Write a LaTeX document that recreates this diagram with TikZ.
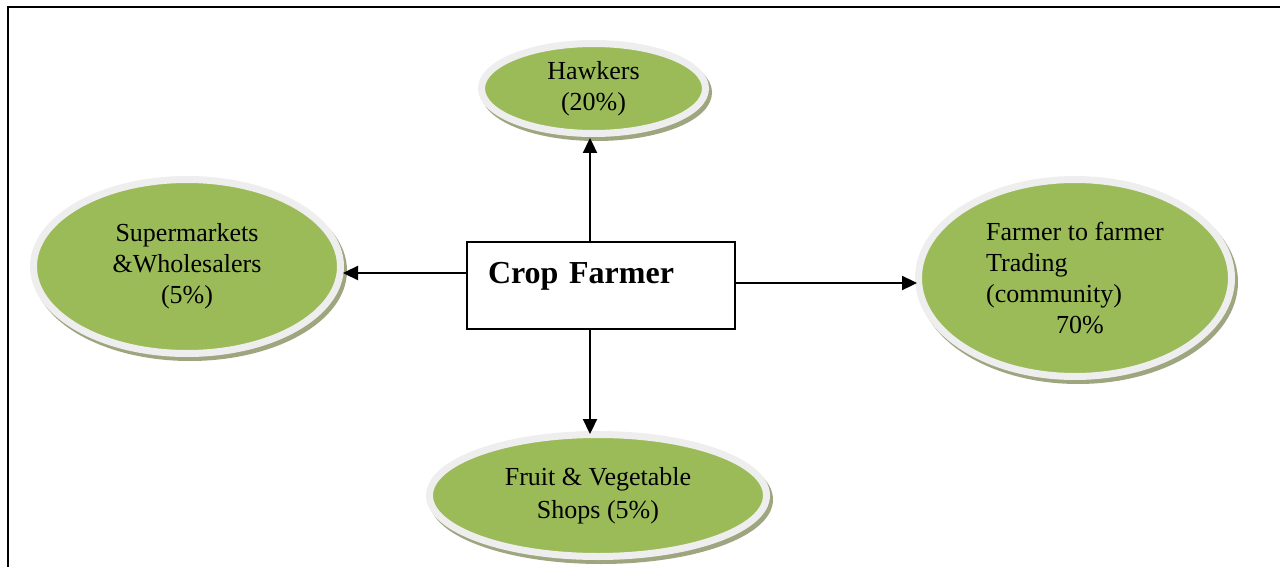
\documentclass[tikz,border=0pt]{standalone}
\usepackage{fontspec}
\setmainfont{Liberation Serif}
\usetikzlibrary{arrows.meta,shapes.geometric}
\definecolor{leafgreen}{HTML}{9BBB59}
\definecolor{ringgray}{HTML}{EEEEEE}
\definecolor{shadowc}{RGB}{158,166,128}
\tikzset{
  bubble/.style={ellipse, inner sep=0pt, fill=leafgreen, draw=ringgray, line width=7pt,
    preaction={draw=shadowc, fill=shadowc, line width=7pt, transform canvas={xshift=3pt,yshift=-4pt}},
    font=\fontsize{26}{31}\selectfont, align=center, text=black},
  centerbox/.style={rectangle, draw=black, line width=1.5pt, fill=white, inner sep=0pt,
    minimum width=268pt, minimum height=87pt, text width=226pt, align=left,
    font=\fontsize{32}{38}\selectfont\bfseries},
  arr/.style={line width=2.3pt, -{Triangle[length=15pt,width=14pt]}},
}
\begin{document}
\begin{tikzpicture}[x=1pt,y=-1pt]
\useasboundingbox (0,0) rectangle (1280,567);
\draw[line width=2.5pt] (8,567) -- (8,7) -- (1280,7);

\node[bubble, minimum width=224pt, minimum height=90pt] (haw) at (593.5,88.5) {Hawkers\\(20\%)};
\node[bubble, minimum width=307pt, minimum height=174pt] (sup) at (187,266.5) {Supermarkets\\\&Wholesalers\\(5\%)};
\node[bubble, minimum width=313pt, minimum height=197pt, align=left] (farm) at (1075,278) {Farmer to farmer\\Trading\\(community)\\\hspace*{70pt}70\%};
\node[bubble, minimum width=337pt, minimum height=122pt] (fruit) at (598,495.5) {Fruit \& Vegetable\\[2pt]Shops (5\%)};

\node[centerbox] (cf) at (601,285.5) {\raisebox{2.5pt}[0pt][0pt]{Crop Farmer}};

\coordinate (xU) at (590,0);
\coordinate (yL) at (0,273);
\coordinate (yR) at (0,283);
\draw[arr] (cf.north -| xU) -- ([yshift=-1pt]haw.south -| xU);
\draw[arr] (cf.south -| xU) -- ([yshift=-3pt]fruit.north -| xU);
\draw[arr] (cf.west |- yL) -- ([xshift=-1pt]sup.east |- yL);
\draw[arr] (cf.east |- yR) -- ([xshift=2pt]farm.west |- yR);
\end{tikzpicture}
\end{document}
